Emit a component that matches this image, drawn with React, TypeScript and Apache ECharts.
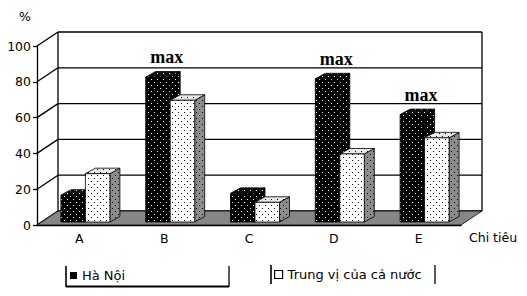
import React, { useEffect, useRef } from 'react';
import * as echarts from 'echarts';

// ---- data ----
const categories = ['A', 'B', 'C', 'D', 'E'];
const haNoi = [15, 81, 16, 80, 60];
const trungVi = [27, 68, 11, 38, 47];
const maxCategories = ['B', 'D', 'E'];
const yTicks = [0, 20, 40, 60, 80, 100];
const seriesNames = ['Hà Nội', 'Trung vị của cả nước'];
const yAxisTitle = '%';
const xAxisTitle = 'Chi tiêu';
const maxLabel = 'max';

// ---- 3D geometry (pixels) ----
const WALL_DX = 21;
const WALL_DY = -14;
const BAR_DX = 6;
const BAR_DY = -3;
const BAR_W = 24.5;
const DEPTH_DX = 10;
const DEPTH_DY = -5.5;

const SANS = 'DejaVu Sans';

function makePattern(bg: string, dot: string) {
  const c = document.createElement('canvas');
  c.width = 6;
  c.height = 6;
  const ctx = c.getContext('2d')!;
  ctx.fillStyle = bg;
  ctx.fillRect(0, 0, 6, 6);
  ctx.fillStyle = dot;
  ctx.fillRect(1, 1, 1, 1);
  ctx.fillRect(4, 4, 1, 1);
  return { image: c, repeat: 'repeat', imageWidth: 6, imageHeight: 6 } as any;
}

export default function App() {
  const ref = useRef<HTMLDivElement>(null);
  useEffect(() => {
    if (!ref.current) return;
    const chart = echarts.init(ref.current, null, { renderer: 'svg' });

    const pHN = makePattern('#000000', '#ffffff');
    const pHNTop = makePattern('#111111', '#ffffff');
    const pTV = makePattern('#ffffff', '#000000');
    const pTVTop = makePattern('#e8e8e8', '#000000');
    const pTVSide = makePattern('#8c8c8c', '#000000');

    const frameRender = (params: any, api: any) => {
      const cs = params.coordSys;
      const v = api.value(1);
      const y = api.coord([0, v])[1];
      const yTop = api.coord([0, yTicks[yTicks.length - 1]])[1];
      const x0 = cs.x;
      const x1 = cs.x + cs.width;
      const line = (a: number, b: number, c: number, d: number, w = 1.3) => ({
        type: 'line',
        shape: { x1: a, y1: b, x2: c, y2: d },
        style: { stroke: '#000', lineWidth: w },
      });
      const children: any[] = [];
      children.push(line(x0, y, x0 + WALL_DX, y + WALL_DY));
      children.push(line(x0 + WALL_DX, y + WALL_DY, x1 + WALL_DX, y + WALL_DY));
      if (params.dataIndex === 0) {
        children.push(line(x0 + WALL_DX, y + WALL_DY, x0 + WALL_DX, yTop + WALL_DY));
        children.push(line(x1 + WALL_DX, y + WALL_DY, x1 + WALL_DX, yTop + WALL_DY));
        children.push({
          type: 'polygon',
          shape: {
            points: [
              [x0, y],
              [x1, y],
              [x1 + WALL_DX, y + WALL_DY],
              [x0 + WALL_DX, y + WALL_DY],
            ],
          },
          style: { fill: '#868686', stroke: '#000', lineWidth: 0.8 },
        });
      }
      return { type: 'group', children };
    };

    const makeBarRender = (k: number) => (params: any, api: any) => {
      const cat = api.value(0);
      const v = api.value(1);
      const base = api.coord([cat, 0]);
      const top = api.coord([cat, v]);
      const cx = base[0] + BAR_DX;
      const x0 = k === 0 ? cx - BAR_W : cx;
      const x1 = x0 + BAR_W;
      const yb = base[1] + BAR_DY;
      const yt = top[1] + BAR_DY;
      const front = k === 0 ? pHN : pTV;
      const topFill = k === 0 ? pHNTop : pTVTop;
      const sideFill = k === 0 ? pHN : pTVSide;
      const stroke = { stroke: '#000', lineWidth: 0.8 };
      const children: any[] = [
        {
          type: 'polygon',
          shape: { points: [[x1, yt], [x1 + DEPTH_DX, yt + DEPTH_DY], [x1 + DEPTH_DX, yb + DEPTH_DY], [x1, yb]] },
          style: { fill: sideFill, ...stroke },
        },
        {
          type: 'polygon',
          shape: { points: [[x0, yt], [x1, yt], [x1 + DEPTH_DX, yt + DEPTH_DY], [x0 + DEPTH_DX, yt + DEPTH_DY]] },
          style: { fill: topFill, ...stroke },
        },
        {
          type: 'rect',
          shape: { x: x0, y: yt, width: BAR_W, height: yb - yt },
          style: { fill: front, ...stroke },
        },
      ];
      if (k === 0 && maxCategories.indexOf(categories[cat]) >= 0) {
        children.push({
          type: 'text',
          x: base[0] + 2.5,
          y: top[1] - 23,
          style: {
            text: maxLabel,
            fill: '#000',
            fontFamily: 'Liberation Serif',
            fontWeight: 'bold',
            fontSize: 18,
            align: 'center',
            verticalAlign: 'middle',
          },
        });
      }
      return { type: 'group', children };
    };

    const option: any = {
      animation: false,
      backgroundColor: '#ffffff',
      grid: { left: 37, top: 46, right: 66, bottom: 71, containLabel: false },
      xAxis: {
        type: 'category',
        data: categories,
        axisLine: { show: true, lineStyle: { color: '#000', width: 1.3 } },
        axisTick: { show: false },
        splitLine: { show: false },
        axisLabel: { color: '#000', fontFamily: SANS, fontSize: 12.5, margin: 7 },
      },
      yAxis: {
        type: 'value',
        min: 0,
        max: 100,
        interval: 20,
        axisLine: { show: true, lineStyle: { color: '#000', width: 1.3 } },
        axisTick: { show: true, length: 4, lineStyle: { color: '#000', width: 1.3 } },
        splitLine: { show: false },
        axisLabel: { color: '#000', fontFamily: SANS, fontSize: 12.5, margin: 6 },
      },
      legend: [
        {
          left: 70,
          top: 269,
          padding: 0,
          itemWidth: 7,
          itemHeight: 7,
          itemGap: 5,
          textStyle: { color: '#000', fontFamily: SANS, fontSize: 13 },
          data: [{ name: seriesNames[0], icon: 'rect', itemStyle: { color: '#000' } }],
        },
        {
          left: 274,
          top: 268,
          padding: 0,
          itemWidth: 8,
          itemHeight: 8,
          itemGap: 5,
          textStyle: { color: '#000', fontFamily: SANS, fontSize: 13 },
          data: [
            {
              name: seriesNames[1],
              icon: 'rect',
              itemStyle: { color: '#fff', borderColor: '#000', borderWidth: 1.2 },
            },
          ],
        },
      ],
      graphic: [
        {
          type: 'text',
          x: 25,
          y: 16,
          style: { text: yAxisTitle, fill: '#000', fontFamily: SANS, fontSize: 12.5, align: 'center', verticalAlign: 'middle' },
        },
        {
          type: 'text',
          x: 469,
          y: 237,
          style: { text: xAxisTitle, fill: '#000', fontFamily: SANS, fontSize: 12.5, align: 'left', verticalAlign: 'middle' },
        },
        { type: 'line', shape: { x1: 66, y1: 266, x2: 66, y2: 287 }, style: { stroke: '#000', lineWidth: 1.6 } },
        { type: 'line', shape: { x1: 229, y1: 266, x2: 229, y2: 287 }, style: { stroke: '#000', lineWidth: 1.3 } },
        { type: 'line', shape: { x1: 66, y1: 286.5, x2: 229, y2: 286.5 }, style: { stroke: '#000', lineWidth: 1.8 } },
        { type: 'line', shape: { x1: 271, y1: 265, x2: 271, y2: 284 }, style: { stroke: '#000', lineWidth: 1.6 } },
        { type: 'line', shape: { x1: 435, y1: 265, x2: 435, y2: 284 }, style: { stroke: '#000', lineWidth: 1.3 } },
      ],
      series: [
        {
          type: 'custom',
          name: 'frame',
          silent: true,
          clip: false,
          z: 1,
          encode: { x: 0, y: 1 },
          data: yTicks.map((v) => [0, v]),
          renderItem: frameRender,
        },
        {
          type: 'custom',
          name: seriesNames[0],
          clip: false,
          z: 3,
          itemStyle: { color: '#000' },
          encode: { x: 0, y: 1 },
          data: haNoi.map((v, i) => [i, v]),
          renderItem: makeBarRender(0),
        },
        {
          type: 'custom',
          name: seriesNames[1],
          clip: false,
          z: 4,
          itemStyle: { color: '#fff' },
          encode: { x: 0, y: 1 },
          data: trungVi.map((v, i) => [i, v]),
          renderItem: makeBarRender(1),
        },
      ],
    };
    chart.setOption(option);
    return () => chart.dispose();
  }, []);
  return (
    <div
      ref={ref}
      style={{ position: 'absolute', left: 0, top: 0, width: 527, height: 296, background: '#fff' }}
    />
  );
}
